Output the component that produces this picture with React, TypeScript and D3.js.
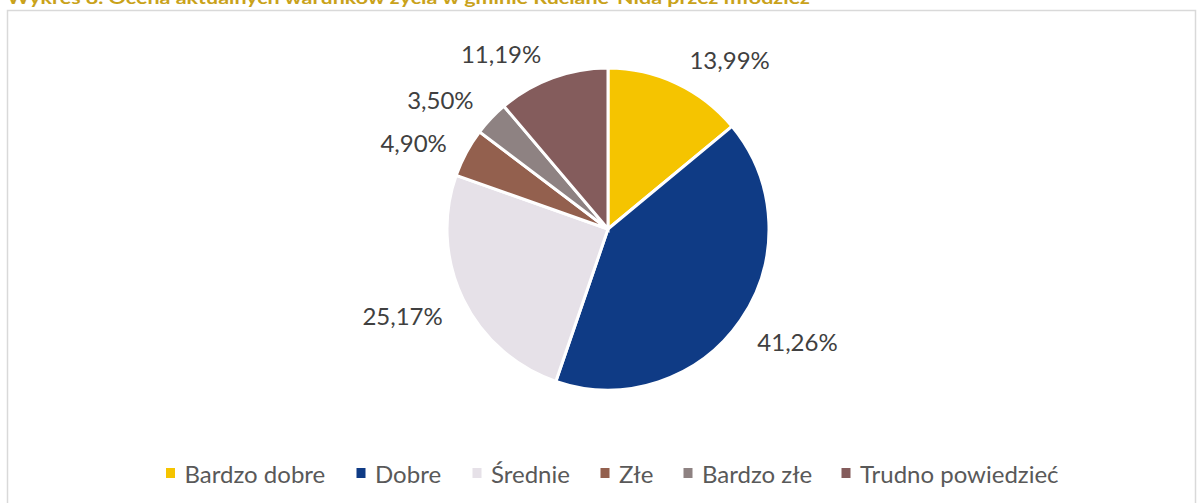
import React from "react";
import * as d3 from "d3";

const categories = ["Bardzo dobre", "Dobre", "Średnie", "Złe", "Bardzo złe", "Trudno powiedzieć"];
const values = [13.99, 41.26, 25.17, 4.9, 3.5, 11.19];
const colors = ["#F5C400", "#0F3B85", "#E6E1E8", "#93604E", "#8E8282", "#845C5C"];
const labelNudges: [number, number][] = [[34, 17], [20, -5], [-20, -3], [-13, 11], [-18, 12], [-36, 18]];
const title = "Wykres 8. Ocena aktualnych warunków życia w gminie Ruciane-Nida przez młodzież";

const W = 1197, H = 503;

export default function App() {
  const cx = 608, cy = 229, r = 161;
  const pie = d3.pie<number>().sort(null).value((d) => d)(values);
  const arc = d3.arc<d3.PieArcDatum<number>>().innerRadius(0).outerRadius(r);
  const font = "Lato, 'Open Sans', sans-serif";
  const fmt = (v: number) => v.toFixed(2).replace(".", ",") + "%";

  const legendX = [170.5, 361, 477, 605, 688, 846];

  return (
    <div style={{ position: "fixed", left: 0, top: 0 }}>
      <svg width={W} height={H} style={{ display: "block", background: "#fff" }}>
        <rect x={7.5} y={10.5} width={1188} height={520} fill="#fff" stroke="#D9D9D9" strokeWidth={1.5} />
        <text x={7} y={4} fontFamily={font} fontWeight="bold" fontSize={17} fill="#C9A21A" textLength={803} lengthAdjust="spacingAndGlyphs">
          {title}
        </text>
        <g transform={`translate(${cx},${cy})`}>
          {pie.map((p, i) => (
            <path key={i} d={arc(p) || ""} fill={colors[i]} stroke="#fff" strokeWidth={3} strokeLinejoin="miter" />
          ))}
          {pie.map((p, i) => {
            const a = (p.startAngle + p.endAngle) / 2;
            const d = r + 45;
            const x = Math.sin(a) * d + labelNudges[i][0];
            const y = -Math.cos(a) * d + labelNudges[i][1];
            return (
              <text key={"l" + i} x={x} y={y} textAnchor="middle" dominantBaseline="central" fontFamily={font} fontSize={24} fill="#404040">
                {fmt(values[i])}
              </text>
            );
          })}
        </g>
        <g>
          {categories.map((c, i) => (
            <g key={c}>
              <rect x={legendX[i] - 4.5} y={468} width={9} height={10} fill={colors[i]} />
              <text x={legendX[i] + 14} y={473} dominantBaseline="central" fontFamily={font} fontSize={24} fill="#595959">
                {c}
              </text>
            </g>
          ))}
        </g>
      </svg>
    </div>
  );
}
